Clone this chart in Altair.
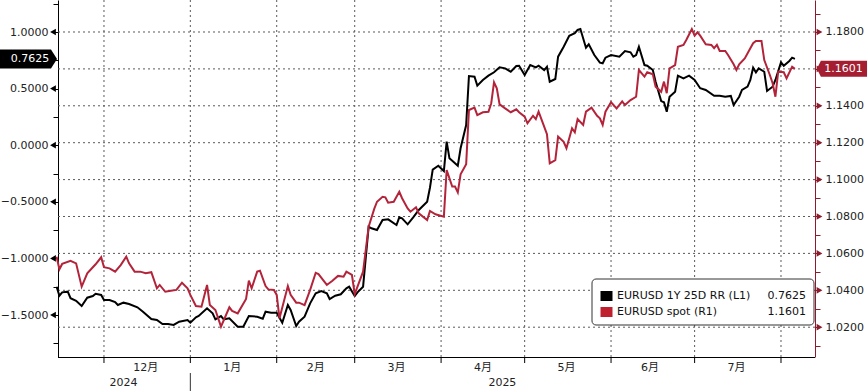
import altair as alt
import pandas as pd

# ---------------- data ----------------
rr_dates = [
    "2024-11-14", "2024-11-15", "2024-11-16", "2024-11-18", "2024-11-19", "2024-11-21", "2024-11-23",
    "2024-11-25", "2024-11-27", "2024-11-28", "2024-11-30",
    "2024-12-01", "2024-12-03", "2024-12-05", "2024-12-06", "2024-12-08", "2024-12-10", "2024-12-13",
    "2024-12-15", "2024-12-18", "2024-12-20", "2024-12-22", "2024-12-24", "2024-12-26", "2024-12-28",
    "2024-12-31",
    "2025-01-01", "2025-01-03", "2025-01-04", "2025-01-07", "2025-01-09", "2025-01-10", "2025-01-12",
    "2025-01-13", "2025-01-15", "2025-01-18", "2025-01-20", "2025-01-22", "2025-01-25", "2025-01-27",
    "2025-01-28", "2025-01-30",
    "2025-02-01", "2025-02-03", "2025-02-05", "2025-02-06", "2025-02-08", "2025-02-09", "2025-02-11",
    "2025-02-13", "2025-02-15", "2025-02-17", "2025-02-19", "2025-02-20", "2025-02-22", "2025-02-24",
    "2025-02-26", "2025-02-27",
    "2025-03-01", "2025-03-02", "2025-03-04", "2025-03-06", "2025-03-07", "2025-03-09", "2025-03-11",
    "2025-03-13", "2025-03-16", "2025-03-17", "2025-03-18", "2025-03-20", "2025-03-22", "2025-03-24",
    "2025-03-27", "2025-03-28", "2025-03-29", "2025-03-31",
    "2025-04-02", "2025-04-03", "2025-04-04", "2025-04-07", "2025-04-08", "2025-04-10", "2025-04-11",
    "2025-04-13", "2025-04-14", "2025-04-16", "2025-04-18", "2025-04-20", "2025-04-22", "2025-04-24",
    "2025-04-26", "2025-04-28", "2025-04-29",
    "2025-05-01", "2025-05-03", "2025-05-05", "2025-05-06", "2025-05-08", "2025-05-09", "2025-05-10",
    "2025-05-12", "2025-05-13", "2025-05-15", "2025-05-17", "2025-05-19", "2025-05-20", "2025-05-21",
    "2025-05-23", "2025-05-24", "2025-05-26", "2025-05-28", "2025-05-29", "2025-05-30",
    "2025-06-01", "2025-06-04", "2025-06-06", "2025-06-08", "2025-06-09", "2025-06-10", "2025-06-11",
    "2025-06-13", "2025-06-14", "2025-06-16", "2025-06-17", "2025-06-19", "2025-06-20", "2025-06-21",
    "2025-06-22", "2025-06-24", "2025-06-25", "2025-06-27", "2025-06-29",
    "2025-07-01", "2025-07-03", "2025-07-05", "2025-07-08", "2025-07-10", "2025-07-12", "2025-07-14",
    "2025-07-15", "2025-07-17", "2025-07-18", "2025-07-20", "2025-07-21", "2025-07-22", "2025-07-23",
    "2025-07-24", "2025-07-26", "2025-07-27", "2025-07-29", "2025-07-30",
    "2025-08-01", "2025-08-02", "2025-08-04", "2025-08-05", "2025-08-06",
]
rr_values = [
    -1.250, -1.330, -1.300, -1.294, -1.352, -1.374, -1.420,
    -1.347, -1.332, -1.312, -1.323,
    -1.367, -1.367, -1.385, -1.412, -1.391, -1.403, -1.432,
    -1.471, -1.535, -1.544, -1.580, -1.580, -1.588, -1.559,
    -1.544,
    -1.568, -1.520, -1.509, -1.441, -1.485, -1.538, -1.509,
    -1.538, -1.529, -1.603, -1.603, -1.509, -1.515, -1.533,
    -1.471, -1.480,
    -1.480, -1.568, -1.412, -1.456, -1.597, -1.559, -1.515,
    -1.397, -1.309, -1.288, -1.309, -1.359, -1.330, -1.317,
    -1.264, -1.250,
    -1.332, -1.300, -1.250, -0.720, -0.734, -0.749, -0.661,
    -0.655, -0.705, -0.637, -0.646, -0.699, -0.637, -0.572,
    -0.499, -0.376, -0.216, -0.181,
    -0.228, 0.031, -0.116, -0.181, -0.027, 0.178, 0.611,
    0.605, 0.526, 0.576, 0.614, 0.644, 0.688, 0.679,
    0.649, 0.700, 0.702,
    0.620, 0.708, 0.688, 0.702, 0.664, 0.693, 0.561,
    0.585, 0.782, 0.870, 0.967, 0.989, 1.018, 1.027,
    0.861, 0.891, 0.797, 0.729, 0.724, 0.773,
    0.797, 0.782, 0.832, 0.821, 0.782, 0.797, 0.870,
    0.708, 0.702, 0.664, 0.561, 0.390, 0.379, 0.296,
    0.428, 0.473, 0.614, 0.591, 0.614,
    0.576, 0.503, 0.488, 0.437, 0.437, 0.428, 0.435,
    0.355, 0.428, 0.488, 0.517, 0.576, 0.685, 0.644,
    0.679, 0.649, 0.479, 0.517, 0.576,
    0.732, 0.702, 0.744, 0.773, 0.7625,
]

spot_dates = [
    "2024-11-14", "2024-11-15", "2024-11-16", "2024-11-19", "2024-11-21", "2024-11-23", "2024-11-25",
    "2024-11-27", "2024-11-28", "2024-11-30",
    "2024-12-01", "2024-12-03", "2024-12-05", "2024-12-07", "2024-12-09", "2024-12-10", "2024-12-12",
    "2024-12-14", "2024-12-16", "2024-12-18", "2024-12-20", "2024-12-21", "2024-12-23", "2024-12-25",
    "2024-12-27", "2024-12-29", "2024-12-31",
    "2025-01-01", "2025-01-03", "2025-01-05", "2025-01-07", "2025-01-08", "2025-01-10", "2025-01-12",
    "2025-01-15", "2025-01-16", "2025-01-18", "2025-01-21", "2025-01-22", "2025-01-23", "2025-01-25",
    "2025-01-26", "2025-01-28", "2025-01-29", "2025-01-31",
    "2025-02-01", "2025-02-02", "2025-02-05", "2025-02-06", "2025-02-08", "2025-02-09", "2025-02-11",
    "2025-02-13", "2025-02-15", "2025-02-16", "2025-02-19", "2025-02-21", "2025-02-23", "2025-02-25",
    "2025-02-26", "2025-02-28",
    "2025-03-01", "2025-03-02", "2025-03-04", "2025-03-06", "2025-03-08", "2025-03-09", "2025-03-11",
    "2025-03-12", "2025-03-13", "2025-03-15", "2025-03-17", "2025-03-18", "2025-03-20", "2025-03-21",
    "2025-03-23", "2025-03-24", "2025-03-27", "2025-03-28", "2025-03-30",
    "2025-04-02", "2025-04-03", "2025-04-05", "2025-04-06", "2025-04-07", "2025-04-08", "2025-04-10",
    "2025-04-11", "2025-04-13", "2025-04-14", "2025-04-16", "2025-04-18", "2025-04-19", "2025-04-20",
    "2025-04-21", "2025-04-22", "2025-04-24", "2025-04-26", "2025-04-28", "2025-04-29",
    "2025-05-01", "2025-05-02", "2025-05-04", "2025-05-05", "2025-05-06", "2025-05-08", "2025-05-09",
    "2025-05-10", "2025-05-12", "2025-05-13", "2025-05-15", "2025-05-16", "2025-05-18", "2025-05-19",
    "2025-05-20", "2025-05-22", "2025-05-23", "2025-05-25", "2025-05-27", "2025-05-28", "2025-05-29",
    "2025-05-30",
    "2025-06-01", "2025-06-03", "2025-06-05", "2025-06-06", "2025-06-08", "2025-06-10", "2025-06-11",
    "2025-06-13", "2025-06-14", "2025-06-16", "2025-06-17", "2025-06-19", "2025-06-20", "2025-06-21",
    "2025-06-22", "2025-06-24", "2025-06-25", "2025-06-27", "2025-06-28", "2025-06-30",
    "2025-07-01", "2025-07-02", "2025-07-03", "2025-07-05", "2025-07-07", "2025-07-08", "2025-07-09",
    "2025-07-10", "2025-07-12", "2025-07-13", "2025-07-15", "2025-07-16", "2025-07-17", "2025-07-19",
    "2025-07-21", "2025-07-22", "2025-07-23", "2025-07-25", "2025-07-26", "2025-07-28", "2025-07-29",
    "2025-07-30", "2025-07-31",
    "2025-08-02", "2025-08-03", "2025-08-05", "2025-08-06",
]
spot_values = [
    1.0582, 1.0514, 1.0543, 1.0560, 1.0546, 1.0420, 1.0492,
    1.0525, 1.0541, 1.0579,
    1.0525, 1.0519, 1.0501, 1.0537, 1.0582, 1.0546, 1.0501,
    1.0501, 1.0492, 1.0498, 1.0411, 1.0429, 1.0392, 1.0398,
    1.0402, 1.0441, 1.0411,
    1.0375, 1.0315, 1.0311, 1.0429, 1.0320, 1.0293, 1.0203,
    1.0308, 1.0288, 1.0275, 1.0353, 1.0452, 1.0411, 1.0501,
    1.0506, 1.0423, 1.0405, 1.0402,
    1.0375, 1.0248, 1.0423, 1.0375, 1.0333, 1.0333, 1.0320,
    1.0402, 1.0495, 1.0488, 1.0429, 1.0452, 1.0478, 1.0474,
    1.0501, 1.0483,
    1.0380, 1.0420, 1.0501, 1.0745, 1.0841, 1.0880, 1.0907,
    1.0904, 1.0875, 1.0880, 1.0934, 1.0899, 1.0844, 1.0826,
    1.0850, 1.0817, 1.0781, 1.0830, 1.0812,
    1.0799, 1.1052, 1.0962, 1.0962, 1.0931, 1.1029, 1.1083,
    1.1377, 1.1390, 1.1350, 1.1365, 1.1368, 1.1414, 1.1527,
    1.1495, 1.1408, 1.1386, 1.1365, 1.1381, 1.1365,
    1.1341, 1.1305, 1.1346, 1.1328, 1.1368, 1.1287, 1.1246,
    1.1088, 1.1106, 1.1233, 1.1205, 1.1170, 1.1278, 1.1256,
    1.1328, 1.1296, 1.1368, 1.1390, 1.1346, 1.1332, 1.1296,
    1.1368,
    1.1419, 1.1386, 1.1424, 1.1404, 1.1431, 1.1449, 1.1594,
    1.1558, 1.1582, 1.1571, 1.1504, 1.1476, 1.1531, 1.1468,
    1.1603, 1.1621, 1.1720, 1.1730, 1.1757, 1.1816,
    1.1780, 1.1798, 1.1780, 1.1733, 1.1730, 1.1712, 1.1730,
    1.1697, 1.1697, 1.1675, 1.1625, 1.1594, 1.1625, 1.1657,
    1.1712, 1.1739, 1.1751, 1.1751, 1.1648, 1.1567, 1.1522,
    1.1449, 1.1585,
    1.1582, 1.1549, 1.1612, 1.1601,
]

series_names = ["EURUSD 1Y 25D RR (L1)", "EURUSD spot (R1)"]

rr_major_ticks = [-1.5, -1.0, -0.5, 0.0, 0.5, 1.0]
rr_minor_ticks = [-1.75, -1.25, -0.75, -0.25, 0.25, 0.75, 1.25]
spot_major_ticks = [1.02, 1.04, 1.06, 1.08, 1.10, 1.12, 1.14, 1.16, 1.18]
spot_minor_ticks = [1.01, 1.03, 1.05, 1.07, 1.09, 1.11, 1.13, 1.15, 1.17, 1.19]

month_starts = ["2024-12-01", "2025-01-01", "2025-02-01", "2025-03-01", "2025-04-01",
                "2025-05-01", "2025-06-01", "2025-07-01", "2025-08-01"]
month_label_dates = ["2024-12-16", "2025-01-16", "2025-02-15", "2025-03-16",
                     "2025-04-16", "2025-05-16", "2025-06-15", "2025-07-16"]
month_labels = ["12月", "1月", "2月", "3月", "4月", "5月", "6月", "7月"]
year_label_dates = ["2024-12-08", "2025-04-23"]
year_labels = ["2024", "2025"]
year_break = "2025-01-01"

# ---------------- styling ----------------
FONT = "DejaVu Sans"
CJK_FONT = "DejaVu Sans, Noto Sans CJK SC"
BLACK = "#000000"
RED = "#b3243b"
AXIS_RED = "#8e1b2c"
TAG_RED = "#a51d31"
LEG_RED = "#c0202e"
GRID = "#5a5a5a"
W, H = 757, 357

LEFT_TAG = "M-1,-0.333L0.79,-0.333L1,0L0.79,0.333L-1,0.333Z"
RIGHT_TAG = "M-1,0L-0.84,-0.318L1,-0.318L1,0.318L-0.84,0.318Z"


def x_scale():
    return alt.Scale(domain=[alt.DateTime(year=2024, month=11, date=14, hours=12),
                             alt.DateTime(year=2025, month=8, date=13, hours=5)])


def rr_scale():
    return alt.Scale(domain=[-1.871, 1.2827], nice=False, zero=False)


def spot_scale():
    return alt.Scale(domain=[1.00385, 1.19734], nice=False, zero=False)


rr_df = pd.DataFrame({"date": pd.to_datetime(rr_dates), "v": rr_values})
spot_df = pd.DataFrame({"date": pd.to_datetime(spot_dates), "v": spot_values})
month_df = pd.DataFrame({"date": pd.to_datetime(month_starts)})
one = pd.DataFrame({"k": [0]})

rr_axis = alt.Axis(
    orient="left", values=sorted(rr_major_ticks + rr_minor_ticks),
    labelExpr="abs(round(datum.value * 4)) % 2 == 0 ? format(datum.value, '.4f') : ''",
    tickSize=5, tickColor="black", domainColor="black", labelFont=FONT, labelFontSize=11,
    labelColor="#222222", labelPadding=5, labelOverlap=False, grid=False, title=None)

spot_axis = alt.Axis(
    orient="right", values=sorted(spot_major_ticks + spot_minor_ticks),
    labelExpr="round(datum.value * 100) % 2 == 0 ? format(datum.value, '.4f') : ''",
    tickSize=5, tickColor=AXIS_RED, domainColor=AXIS_RED, labelFont=FONT, labelFontSize=11,
    labelColor="#222222", labelPadding=5, labelOverlap=False, grid=False, title=None)

# grids: horizontal at right-axis majors, vertical at month starts
hgrid = alt.Chart(pd.DataFrame({"v": spot_major_ticks})).mark_rule(
    color=GRID, strokeDash=[2, 3], strokeWidth=1).encode(
    y=alt.Y("v:Q", scale=spot_scale(), axis=None))
vgrid = alt.Chart(month_df).mark_rule(color=GRID, strokeDash=[2, 3], strokeWidth=1).encode(
    x=alt.X("date:T", scale=x_scale(), axis=None))
xticks = alt.Chart(month_df).mark_rule(color="black", strokeWidth=1).encode(
    x=alt.X("date:T", scale=x_scale(), axis=None), y=alt.value(H), y2=alt.value(H + 6))
xdomain = alt.Chart(one).mark_rule(color="black", strokeWidth=1).encode(
    x=alt.value(0), x2=alt.value(W), y=alt.value(H + 0.5))

# ---- left (RR) ----
rr_line = alt.Chart(rr_df).mark_line(color=BLACK, strokeWidth=2).encode(
    x=alt.X("date:T", scale=x_scale(), axis=None),
    y=alt.Y("v:Q", scale=rr_scale(), axis=rr_axis))
rr_arrows = alt.Chart(pd.DataFrame({"v": rr_major_ticks})).mark_point(
    shape="triangle-left", filled=True, size=45, color=BLACK, opacity=1, strokeWidth=0).encode(
    x=alt.value(-5), y=alt.Y("v:Q", scale=rr_scale(), axis=None))
rr_last = pd.DataFrame({"v": [rr_values[-1]], "label": [f"{rr_values[-1]:.4f}"]})
rr_tag = alt.Chart(rr_last).mark_point(
    shape=LEFT_TAG, size=57 * 57, filled=True, color=BLACK, opacity=1, strokeWidth=0).encode(
    x=alt.value(-29.5), y=alt.Y("v:Q", scale=rr_scale(), axis=None))
rr_tag_text = alt.Chart(rr_last).mark_text(
    color="white", font=FONT, fontSize=11, align="center", baseline="middle").encode(
    x=alt.value(-28), y=alt.Y("v:Q", scale=rr_scale(), axis=None), text="label:N")

# ---- right (spot) ----
spot_line = alt.Chart(spot_df).mark_line(color=RED, strokeWidth=2).encode(
    x=alt.X("date:T", scale=x_scale(), axis=None),
    y=alt.Y("v:Q", scale=spot_scale(), axis=spot_axis))
spot_arrows = alt.Chart(pd.DataFrame({"v": spot_major_ticks})).mark_point(
    shape="triangle-right", filled=True, size=45, color=AXIS_RED, opacity=1, strokeWidth=0).encode(
    x=alt.value(W + 4.5), y=alt.Y("v:Q", scale=spot_scale(), axis=None))
spot_last = pd.DataFrame({"v": [spot_values[-1]], "label": [f"{spot_values[-1]:.4f}"]})
spot_tag = alt.Chart(spot_last).mark_point(
    shape=RIGHT_TAG, size=2530, filled=True, color=TAG_RED, opacity=1, strokeWidth=0).encode(
    x=alt.value(W + 27), y=alt.Y("v:Q", scale=spot_scale(), axis=None))
spot_tag_text = alt.Chart(spot_last).mark_text(
    color="white", font=FONT, fontSize=11, align="center", baseline="middle").encode(
    x=alt.value(W + 28.5), y=alt.Y("v:Q", scale=spot_scale(), axis=None), text="label:N")

# ---- time-axis labels ----
month_text = alt.Chart(pd.DataFrame({"date": pd.to_datetime(month_label_dates),
                                     "label": month_labels})).mark_text(
    font=CJK_FONT, fontSize=11, color="#222222", baseline="middle").encode(
    x=alt.X("date:T", scale=x_scale(), axis=None), y=alt.value(H + 10.5), text="label:N")
year_text = alt.Chart(pd.DataFrame({"date": pd.to_datetime(year_label_dates),
                                    "label": year_labels})).mark_text(
    font=FONT, fontSize=11, color="#222222", baseline="middle").encode(
    x=alt.X("date:T", scale=x_scale(), axis=None), y=alt.value(H + 26), text="label:N")
year_rule = alt.Chart(pd.DataFrame({"date": [pd.Timestamp(year_break)]})).mark_rule(
    color="#333333", strokeWidth=1).encode(
    x=alt.X("date:T", scale=x_scale(), axis=None), y=alt.value(H + 16), y2=alt.value(H + 34))

# ---- legend box ----
legend_layers = [
    alt.Chart(one).mark_rect(fill="white", stroke="#333333", strokeWidth=1, cornerRadius=4).encode(
        x=alt.value(534), x2=alt.value(756), y=alt.value(279), y2=alt.value(325))
]
legend_colors = [BLACK, LEG_RED]
legend_values = [f"{rr_values[-1]:.4f}", f"{spot_values[-1]:.4f}"]
for i in range(2):
    yc = 296 + 16 * i
    row = pd.DataFrame({"name": [series_names[i]], "value": [legend_values[i]]})
    legend_layers.append(alt.Chart(row).mark_rect(color=legend_colors[i]).encode(
        x=alt.value(542.5), x2=alt.value(554.5), y=alt.value(yc - 5), y2=alt.value(yc + 5)))
    legend_layers.append(alt.Chart(row).mark_text(
        font=FONT, fontSize=11, color="#111111", align="left", baseline="middle").encode(
        x=alt.value(559), y=alt.value(yc), text="name:N"))
    legend_layers.append(alt.Chart(row).mark_text(
        font=FONT, fontSize=11, color="#111111", align="right", baseline="middle").encode(
        x=alt.value(748), y=alt.value(yc), text="value:N"))

chart = alt.layer(
    hgrid, vgrid, xticks, xdomain, rr_line, spot_line, rr_arrows, rr_tag, rr_tag_text,
    spot_arrows, spot_tag, spot_tag_text,
    month_text, year_text, year_rule, *legend_layers
).resolve_scale(y="independent").properties(
    width=W, height=H, autosize="none",
    padding={"left": 58, "top": 0, "right": 52, "bottom": 34},
    background="white",
).configure_view(strokeWidth=0)

chart.save("out.html", embed_options={"renderer": "svg", "actions": False})
